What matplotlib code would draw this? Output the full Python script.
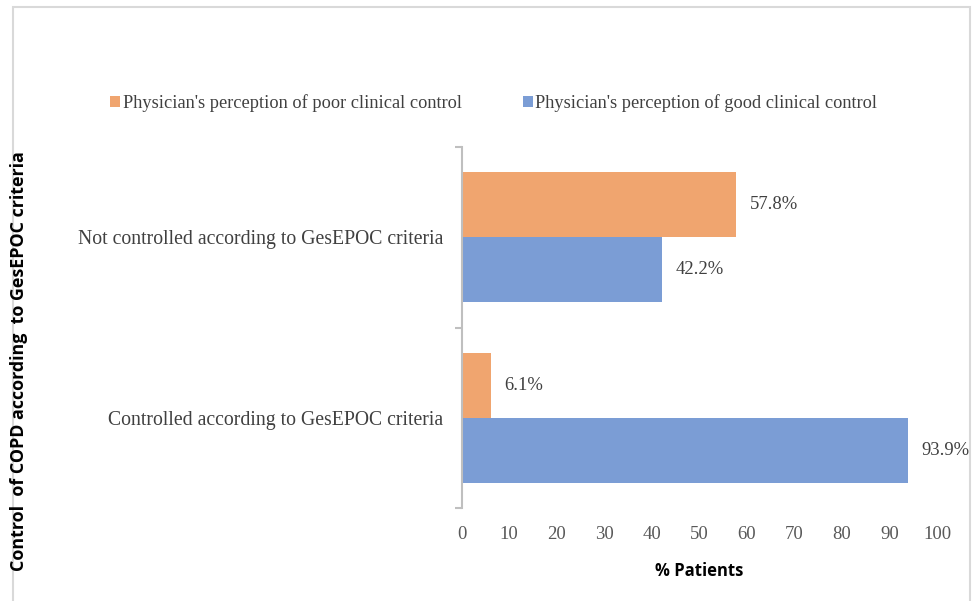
import matplotlib
matplotlib.use("Agg")
import matplotlib.pyplot as plt
from matplotlib.patches import Rectangle
import numpy as np

# data (bottom to top)
categories = ["Controlled according to GesEPOC criteria",
              "Not controlled according to GesEPOC criteria"]
poor_control = [6.1, 57.8]
good_control = [93.9, 42.2]
series_names = ["Physician's perception of poor clinical control",
                "Physician's perception of good clinical control"]
x_ticks = [0, 10, 20, 30, 40, 50, 60, 70, 80, 90, 100]

orange = "#F0A56F"
blue = "#7B9DD5"
serif = "Liberation Serif"

fig = plt.figure(figsize=(9.74, 6.01), dpi=100)
ax = fig.add_axes([0.474, 0.155, 0.488, 0.6])

y = np.arange(len(categories))
h = 0.36
ax.barh(y + h / 2, poor_control, height=h, color=orange, label=series_names[0])
ax.barh(y - h / 2, good_control, height=h, color=blue, label=series_names[1])

for yi, v in zip(y + h / 2, poor_control):
    ax.text(v + 2.9, yi, f"{v:.1f}%", va="center", ha="left",
            fontsize=13.4, family=serif, color="#404040")
for yi, v in zip(y - h / 2, good_control):
    ax.text(v + 2.9, yi, f"{v:.1f}%", va="center", ha="left",
            fontsize=13.4, family=serif, color="#404040")

ax.set_xlim(0, 100)
ax.set_ylim(-0.5, len(categories) - 0.5)
ax.set_xticks(x_ticks)
ax.set_xticklabels([str(t) for t in x_ticks], family=serif, fontsize=13.5, color="#595959")
ax.tick_params(axis="x", length=0, pad=13)

ax.set_yticks(y)
ax.set_yticklabels(categories, family=serif, fontsize=14.2, color="#404040")
ax.tick_params(axis="y", which="major", length=0, pad=13)
ax.set_yticks(np.arange(-0.5, len(categories), 1.0), minor=True)
ax.tick_params(axis="y", which="minor", length=5, width=1.5, color="#BFBFBF", direction="out")

for s in ["top", "right", "bottom"]:
    ax.spines[s].set_visible(False)
ax.spines["left"].set_color("#BFBFBF")
ax.spines["left"].set_linewidth(1.5)

ax.set_xlabel("% Patients", fontsize=12, fontweight="bold", family="Open Sans", labelpad=14)

fig.text(0.019, 0.40, "Control  of COPD according  to GesEPOC criteria", rotation=90,
         ha="center", va="center", fontsize=12.9, fontweight="bold", family="Open Sans")

handles, labels = ax.get_legend_handles_labels()
fig.legend(handles, labels, loc="center", bbox_to_anchor=(0.507, 0.828), ncol=2,
           frameon=False, prop={"family": serif, "size": 13.2},
           handlelength=0.55, handleheight=0.55, handletextpad=0.15, columnspacing=3.3,
           labelcolor="#404040")

# light grey frame around the chart
fig.patches.append(Rectangle((13 / 974, -0.02), (970 - 13) / 974, 1.02 - 7 / 601,
                             transform=fig.transFigure, fill=False,
                             edgecolor="#D9D9D9", linewidth=1.5))

fig.savefig("out.png", dpi=100)
